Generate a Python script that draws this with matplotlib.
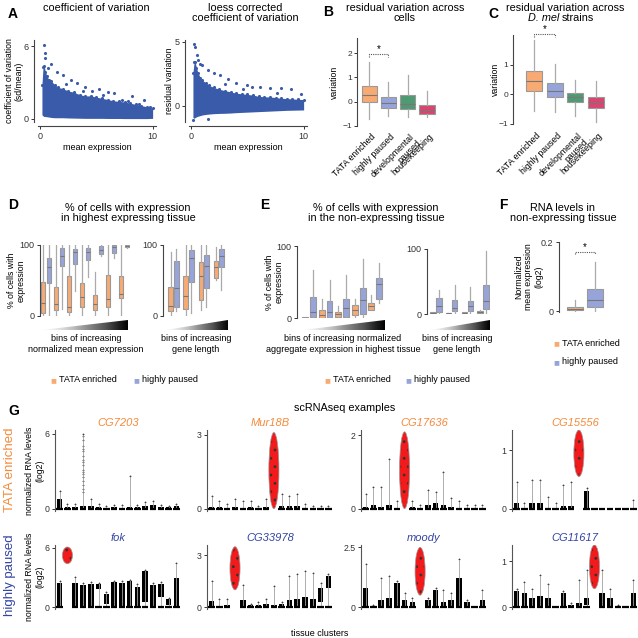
import numpy as np
import matplotlib
matplotlib.use('Agg')
import matplotlib.pyplot as plt
from matplotlib.patches import Polygon, Ellipse

plt.rcParams['font.family'] = ['Liberation Sans', 'DejaVu Sans']
plt.rcParams['axes.linewidth'] = 0.8
plt.rcParams['hatch.linewidth'] = 0.8

W = H = 638
fig = plt.figure(figsize=(6.38, 6.38), dpi=100)

ORANGE = '#F8AA72'
BLUE = '#97A4DA'
GREEN = '#4F9A72'
PINK = '#DA4470'
DOT = '#3A5BAA'
GENE_OR = '#F58A3A'
GENE_BL = '#3344A3'
RED = '#F21A1A'

# ---------------- data ----------------
# Panel A (dense cloud envelope + sparse outliers)
a_x = [0.15, 0.25, 0.35, 0.45, 0.6, 0.8, 1.0, 1.3, 1.6, 2.0, 2.5, 3.0, 3.5, 4.0, 4.5, 5.0,
       5.5, 6.0, 6.5, 7.0, 7.5, 8.0, 8.5, 9.0, 9.5, 10.0]
a_cv_hi = [2.8, 4.3, 4.4, 3.9, 3.5, 3.2, 3.1, 2.8, 2.6, 2.5, 2.3, 2.2, 2.0, 1.9, 1.9, 1.8,
           1.7, 1.6, 1.5, 1.45, 1.4, 1.3, 1.2, 1.1, 1.0, 0.9]
a_cv_lo = [0.35, 0.25, 0.2, 0.2, 0.18, 0.15, 0.12, 0.1, 0.1, 0.1, 0.08, 0.07, 0.06, 0.05, 0.05, 0.05,
           0.05, 0.04, 0.04, 0.04, 0.03, 0.03, 0.03, 0.03, 0.03, 0.05]
a_cv_out_x = [0.3, 0.4, 0.45, 0.7, 1.0, 1.5, 2.0, 2.7, 3.3, 4.0, 4.6, 5.2, 6.0, 6.6, 7.3, 8.2, 9.2, 9.8,
              8.8, 3.8, 5.6, 7.8, 2.3]
a_cv_out_y = [6.1, 5.4, 5.0, 4.2, 4.5, 3.9, 3.6, 3.2, 3.0, 2.6, 2.3, 2.5, 2.2, 2.1, 1.6, 1.9, 1.6, 1.0,
              1.2, 2.3, 2.0, 1.5, 2.9]
a_res_hi = [2.6, 3.4, 3.45, 3.0, 2.6, 2.2, 2.0, 1.8, 1.6, 1.45, 1.3, 1.2, 1.1, 1.0, 0.95, 0.9,
            0.85, 0.75, 0.72, 0.7, 0.66, 0.6, 0.58, 0.55, 0.52, 0.5]
a_res_lo = [-0.9, -0.96, -0.9, -0.85, -0.8, -0.75, -0.7, -0.66, -0.63, -0.6, -0.58, -0.57, -0.55, -0.52, -0.5, -0.48,
            -0.46, -0.44, -0.42, -0.4, -0.38, -0.36, -0.34, -0.33, -0.32, -0.31]
a_res_out_x = [0.25, 0.3, 0.5, 0.6, 0.8, 1.0, 1.5, 2.0, 2.6, 3.3, 4.0, 5.0, 5.4, 6.1, 7.0, 8.0, 8.9, 9.8,
               1.5, 0.2, 3.0, 4.6, 7.6]
a_res_out_y = [4.85, 4.6, 4.0, 3.6, 3.3, 3.2, 2.8, 2.6, 2.4, 2.1, 1.8, 1.6, 1.5, 1.5, 1.4, 1.4, 1.3, 0.9,
               -1.0, -1.1, 1.7, 1.3, 1.0]

# Panels B, C
groups = ['TATA enriched', 'highly paused', 'developmental\npaused', 'housekeeping']
group_colors = [ORANGE, BLUE, GREEN, PINK]
b_lo = [-0.7, -0.6, -0.65, -0.65]
b_q1 = [0.0, -0.25, -0.3, -0.5]
b_med = [0.28, -0.05, -0.1, -0.35]
b_q3 = [0.65, 0.2, 0.27, -0.15]
b_hi = [1.65, 0.8, 1.08, 0.45]
c_lo = [-0.55, -0.58, -0.73, -0.93]
c_q1 = [0.12, -0.1, -0.27, -0.45]
c_med = [0.45, 0.1, -0.1, -0.27]
c_q3 = [0.8, 0.37, 0.03, -0.08]
c_hi = [1.82, 1.02, 0.5, 0.45]

# Panel D (percent of cells) [TATA, paused] per bin
d1_tata = dict(lo=[0, 0, 0, 0, 0, 0, 0], q1=[4, 9, 6, 12, 8, 12, 25], med=[18, 17, 12, 27, 17, 24, 31],
               q3=[48, 41, 57, 47, 30, 58, 56], hi=[100, 100, 100, 100, 62, 100, 100])
d1_paus = dict(lo=[0, 10, 35, 55, 85, 82, 96], q1=[47, 70, 73, 79, 87, 89, 97], med=[69, 85, 90, 90, 93, 97, 99],
               q3=[82, 96, 95, 96, 98, 100, 100], hi=[100, 100, 100, 100, 100, 100, 100])
d2_tata = dict(lo=[0, 0, 8, 50], q1=[7, 10, 22, 53], med=[14, 28, 57, 69], q3=[41, 57, 76, 77], hi=[90, 100, 100, 97])
d2_paus = dict(lo=[7, 4, 13, 36], q1=[12, 48, 39, 69], med=[40, 82, 71, 85], q3=[77, 93, 86, 94], hi=[94, 100, 100, 100])
# Panel E
e1_tata = dict(lo=[0, 0, 0, 0, 11], q1=[0, 0, 1, 4, 11], med=[0.5, 4, 5, 11, 16], q3=[1, 11, 8, 18, 21], hi=[1, 26, 17, 27, 32])
e1_paus = dict(lo=[0, 0, 0, 1, 21], q1=[2, 0, 2, 6, 27], med=[9, 8, 14, 25, 47], q3=[29, 23, 27, 42, 56], hi=[67, 53, 60, 82, 76])
e2_tata = dict(lo=[1, 0, 1, 1], q1=[1.5, 0.5, 1.5, 2], med=[2, 1, 2, 3], q3=[2.5, 1.5, 2.5, 5], hi=[3, 2, 3, 6])
e2_paus = dict(lo=[1, 1, 1, 1], q1=[3, 4, 4, 8], med=[13, 10, 12, 20], q3=[24, 21, 20, 45], hi=[37, 45, 42, 97])
# Panel F
f_groups = ['TATA enriched', 'highly paused']
f_lo = [0.0, 0.0]
f_q1 = [0.003, 0.011]
f_med = [0.007, 0.034]
f_q3 = [0.013, 0.064]
f_hi = [0.034, 0.141]

# Panel G: per tissue cluster dense band (lo, hi), whisker max; red = highlighted cluster (idx, lo, hi)
genes = ['CG7203', 'Mur18B', 'CG17636', 'CG15556', 'fok', 'CG33978', 'moody', 'CG11617']
g_ytop = [6, 3, 2, 1, 6, 3, 2.5, 1]
g_ylim = [6.3, 3.2, 2.15, 1.35, 6.3, 3.6, 2.6, 1.35]
g_red = [None, (8, 0.0, 3.1), (5, 0.0, 2.1), (8, 0.55, 1.35),
         (1, 4.4, 6.1), (3, 1.0, 3.5), (7, 0.5, 2.5), (10, 0.4, 1.35)]
g_lo = [
    [0] * 16, [0] * 16, [0] * 16, [0] * 16,
    [0, 0, 0, 0, 0, 1.8, 0.3, 0, 0, 0, 0, 0.5, 0, 1.0, 0.2, 0],
    [0, 0, 0, 0, 0, 0, 0, 0, 0, 0, 0, 0, 0, 0, 0.3, 1.1],
    [0] * 16,
    [0, 0, 0, 0, 0, 0, 0, 0, 0, 0.05, 0, 0, 0, 0, 0, 0],
]
g_hi = [
    [0.8, 0.1, 0.1, 0.2, 0.2, 0.1, 0, 0.1, 0, 0.1, 0.1, 0.2, 0.3, 0.1, 0.1, 0.2],
    [0.05, 0.05, 0, 0.05, 0, 0.05, 0, 0.05, 0, 0.1, 0.1, 0.1, 0, 0, 0, 0],
    [0.05, 0.1, 0.05, 0.1, 0, 0, 0.05, 0, 0.1, 0.15, 0.1, 0.05, 0, 0, 0, 0],
    [0.1, 0, 0.1, 0.1, 0, 0, 0.05, 0.05, 0, 0.3, 0, 0, 0, 0, 0, 0],
    [2.4, 0, 2.4, 2.2, 2.3, 2.3, 1.3, 2.5, 2.4, 2.6, 2.0, 3.7, 2.2, 2.3, 0.8, 3.0],
    [0.35, 0, 0.1, 0, 0.4, 0.1, 0.1, 0.2, 0.1, 0.2, 0.4, 0.5, 0.6, 0.5, 1.1, 1.8],
    [0.8, 0, 0.3, 0.4, 1.0, 0.3, 0.2, 0, 0.3, 0.7, 0.2, 0.3, 1.2, 0.2, 0, 0.3],
    [0.35, 0.3, 0.2, 0.25, 0.2, 0, 0.3, 0.05, 0.1, 0.2, 0, 0.3, 0.2, 0, 0, 0.3],
]
g_max = [
    [1.4, 0.4, 0.4, 6.0, 0.8, 0.4, 0.2, 0.3, 0.3, 2.6, 0.3, 0.5, 0.6, 0.3, 0.2, 0.4],
    [0.5, 0.3, 0.2, 0.4, 0.3, 0.3, 0.1, 0.4, 0, 0.6, 0.5, 0.6, 0.2, 0.1, 0.1, 0.1],
    [0.4, 0.6, 0.6, 1.35, 0.2, 0, 0.2, 0.1, 0.5, 0.45, 1.0, 0.3, 0.2, 0.1, 0.1, 0.1],
    [0.45, 0.1, 0.5, 0.5, 0.2, 0.1, 0.4, 0.45, 0, 0.35, 0, 0, 0, 0, 0, 0.15],
    [2.6, 0, 3.1, 2.4, 2.5, 2.4, 1.5, 2.6, 2.7, 2.8, 2.3, 3.8, 2.4, 2.5, 0.9, 4.5],
    [1.5, 0.5, 0.5, 0, 1.3, 0.2, 0.3, 0.5, 1.2, 0.3, 1.8, 1.9, 2.1, 2.0, 1.4, 1.9],
    [1.8, 0.1, 1.2, 1.3, 1.1, 0.6, 0.4, 0, 0.4, 0.8, 0.7, 0.6, 2.0, 0.3, 0, 0.7],
    [0.4, 0.55, 0.4, 0.7, 0.5, 0, 0.35, 0.1, 0.6, 0.8, 0, 0.8, 0.4, 0.05, 0, 0.6],
]
cg7203_col_y = [5.8, 5.5, 5.0, 4.6, 4.2, 3.9, 3.5, 3.1, 2.8, 2.5, 2.2, 1.9, 1.6, 1.3, 4.8, 3.7, 2.9]


# ---------------- helpers ----------------
def pax(x0, y0, x1, y1):
    return fig.add_axes([x0 / W, 1 - y1 / H, (x1 - x0) / W, (y1 - y0) / H])


def ftext(x, y, s, **kw):
    return fig.text(x / W, 1 - y / H, s, **kw)


def style_left(ax, bottom=False):
    for s in ['top', 'right']:
        ax.spines[s].set_visible(False)
    if not bottom:
        ax.spines['bottom'].set_visible(False)
        ax.set_xticks([])
    ax.spines['left'].set_color('#444444')
    ax.spines['bottom'].set_color('#444444')
    ax.tick_params(labelsize=6.5, length=2.5, width=0.7, pad=1.5, colors='#333333')
    ax.set_facecolor('none')


def ylab(ax, text, xright, x0, x1):
    # xright: pixel x of the right edge of the (rotated) label
    ax.set_ylabel(text, fontsize=6.3, linespacing=1.1)
    ax.yaxis.set_label_coords((xright - x0) / (x1 - x0), 0.5)


def boxes(ax, pos, lo, q1, med, q3, hi, colors, width):
    stats = [dict(whislo=lo[i], q1=q1[i], med=med[i], q3=q3[i], whishi=hi[i]) for i in range(len(pos))]
    bp = ax.bxp(stats, positions=pos, widths=width, showfliers=False, patch_artist=True,
                showcaps=False, manage_ticks=False,
                boxprops=dict(edgecolor='#999999', linewidth=0.8),
                whiskerprops=dict(color='#aaaaaa', linewidth=0.9),
                medianprops=dict(color='#777777', linewidth=0.8))
    for b, c in zip(bp['boxes'], colors):
        b.set_facecolor(c)
    return bp


def bracket(ax, x0, x1, y, d, star_y):
    ax.plot([x0, x0, x1, x1], [y - d, y, y, y - d], ls=(0, (1, 1)), color='#555555', lw=0.8, clip_on=False)
    ax.text((x0 + x1) / 2, star_y, '*', ha='center', va='center', fontsize=7, clip_on=False)


def wedge(x0, y0, x1, y1):
    ax = pax(x0, y0, x1, y1)
    ax.set_xlim(0, 1)
    ax.set_ylim(0, 1)
    ax.axis('off')
    im = ax.imshow(np.linspace(0, 1, 256)[None, :], cmap='Greys', vmin=0, vmax=1.0,
                   extent=[0, 1, 0, 1], aspect='auto')
    tri = Polygon([(0, 0), (1, 0), (1, 1)], closed=True, transform=ax.transData)
    im.set_clip_path(tri)


def paired(ax, tata, paus, off, width):
    n = len(tata['med'])
    pos = np.arange(n)
    boxes(ax, pos - off, tata['lo'], tata['q1'], tata['med'], tata['q3'], tata['hi'], [ORANGE] * n, width)
    boxes(ax, pos + off, paus['lo'], paus['q1'], paus['med'], paus['q3'], paus['hi'], [BLUE] * n, width)


def legend_row(x, y, color, text):
    ftext(x, y, '\u25A0', color=color, fontsize=7, ha='center', va='center')
    ftext(x + 6, y, text, fontsize=6.5, va='center')


TS = 7.8  # title size

# ---------------- Panel A ----------------
ftext(8, 14, 'A', fontsize=10, fontweight='bold', va='center')
ftext(96, 3, 'coefficient of variation', fontsize=TS, ha='center', va='top')
x0, x1 = 38, 156
ax = pax(x0, 40, x1, 122)
style_left(ax, bottom=True)
ax.spines['left'].set_position(('outward', 3))
ax.spines['bottom'].set_position(('outward', 3))
ax.fill_between(a_x, a_cv_lo, a_cv_hi, color=DOT, lw=0)
ax.scatter(a_x, a_cv_hi, s=5, color=DOT, lw=0)
ax.scatter(a_cv_out_x, a_cv_out_y, s=5, color=DOT, lw=0)
ax.set_xlim(-0.2, 10.3)
ax.set_ylim(-0.25, 6.5)
ax.set_xticks([0, 10])
ax.set_yticks([0, 6])
ax.set_xlabel('mean expression', fontsize=6.5, labelpad=2)
ylab(ax, 'coefficient of variation\n(sd/mean)', 24, x0, x1)

ftext(245, 3, 'loess corrected\ncoefficient of variation', fontsize=TS, ha='center', va='top', linespacing=1.0)
x0, x1 = 189, 307
ax = pax(x0, 40, x1, 122)
style_left(ax, bottom=True)
ax.spines['left'].set_position(('outward', 3))
ax.spines['bottom'].set_position(('outward', 3))
ax.fill_between(a_x, a_res_lo, a_res_hi, color=DOT, lw=0)
ax.scatter(a_x, a_res_hi, s=5, color=DOT, lw=0)
ax.scatter(a_res_out_x, a_res_out_y, s=5, color=DOT, lw=0)
ax.set_xlim(-0.2, 10.3)
ax.set_ylim(-1.25, 5.15)
ax.set_xticks([0, 10])
ax.set_yticks([0, 5])
ax.set_xlabel('mean expression', fontsize=6.5, labelpad=2)
ylab(ax, 'residual variation', 174, x0, x1)

# ---------------- Panel B ----------------
ftext(323, 12, 'B', fontsize=10, fontweight='bold', va='center')
ftext(405, 3, 'residual variation across\ncells', fontsize=TS, ha='center', va='top', linespacing=1.0)
x0, x1 = 357, 440
ax = pax(x0, 38, x1, 126)
style_left(ax)
ax.tick_params(labelsize=6, pad=1)
boxes(ax, range(4), b_lo, b_q1, b_med, b_q3, b_hi, group_colors, 0.79)
ax.set_xlim(-0.63, 3.68)
ax.set_ylim(-1, 2.62)
ax.set_yticks([-1, 0, 1, 2])
ax.set_yticklabels(['\u22121', '0', '1', '2'])
ylab(ax, 'variation', 339, x0, x1)
bracket(ax, 0, 1, 1.95, 0.1, 2.15)
for i, g in enumerate(groups):
    ax.text(i + 0.1, -1.25, g, rotation=45, ha='right', va='top', rotation_mode='anchor',
            fontsize=6.3, multialignment='right', linespacing=1.0, clip_on=False)

# ---------------- Panel C ----------------
ftext(488, 14, 'C', fontsize=10, fontweight='bold', va='center')
ftext(565, 3, 'residual variation across', fontsize=TS, ha='center', va='top')
ftext(559, 13, 'D. mel', fontsize=TS, ha='right', va='top', style='italic')
ftext(562, 13, 'strains', fontsize=TS, ha='left', va='top')
x0, x1 = 513, 610
ax = pax(x0, 35, x1, 124)
style_left(ax)
ax.tick_params(labelsize=6, pad=1)
boxes(ax, range(4), c_lo, c_q1, c_med, c_q3, c_hi, group_colors, 0.78)
ax.set_xlim(-1.03, 3.7)
ax.set_ylim(-1, 2.0)
ax.set_yticks([-1, 0, 1])
ax.set_yticklabels(['\u22121', '0', '1'])
ylab(ax, 'variation', 500, x0, x1)
bracket(ax, 0, 1, 2.03, 0.1, 2.2)
for i, g in enumerate(groups):
    ax.text(i + 0.1, -1.25, g, rotation=45, ha='right', va='top', rotation_mode='anchor',
            fontsize=6.3, multialignment='right', linespacing=1.0, clip_on=False)

# ---------------- Panel D ----------------
ftext(8, 205, 'D', fontsize=10, fontweight='bold', va='center')
ftext(128, 203, '% of cells with expression\nin highest expressing tissue', fontsize=TS, ha='center',
      va='top', linespacing=1.05)
x0, x1 = 40, 130
ax = pax(x0, 245, x1, 316)
style_left(ax)
paired(ax, d1_tata, d1_paus, 0.23, 0.38)
ax.set_xlim(-0.46, 6.46)
ax.set_ylim(0, 100)
ax.set_yticks([0, 100])
ylab(ax, '% of cells with\nexpression', 26, x0, x1)
ax = pax(163, 245, 228, 316)
style_left(ax)
paired(ax, d2_tata, d2_paus, 0.17, 0.33)
ax.set_xlim(-0.7, 3.63)
ax.set_ylim(0, 100)
ax.set_yticks([0, 100])
wedge(41, 320, 128, 330)
wedge(165, 320, 228, 330)
ftext(86, 334, 'bins of increasing\nnormalized mean expression', fontsize=6.5, ha='center', va='top', linespacing=1.25)
ftext(196, 334, 'bins of increasing\ngene length', fontsize=6.5, ha='center', va='top', linespacing=1.25)
legend_row(53, 380, ORANGE, 'TATA enriched')
legend_row(136, 380, BLUE, 'highly paused')

# ---------------- Panel E ----------------
ftext(260, 205, 'E', fontsize=10, fontweight='bold', va='center')
ftext(376, 203, '% of cells with expression\nin the non-expressing tissue', fontsize=TS, ha='center',
      va='top', linespacing=1.05)
x0, x1 = 297, 385
ax = pax(x0, 246, x1, 318)
style_left(ax)
paired(ax, e1_tata, e1_paus, 0.24, 0.36)
ax.set_xlim(-0.73, 4.6)
ax.set_ylim(0, 100)
ax.set_yticks([0, 100])
ylab(ax, '% of cells with\nexpression', 284, x0, x1)
ax = pax(427, 249, 490, 314)
style_left(ax)
paired(ax, e2_tata, e2_paus, 0.19, 0.35)
ax.set_xlim(-0.57, 3.44)
ax.set_ylim(0, 100)
ax.set_yticks([0, 100])
wedge(302, 320, 385, 330)
wedge(430, 320, 490, 330)
ftext(343, 334, 'bins of increasing normalized\naggregate expression in highest tissue', fontsize=6.5,
      ha='center', va='top', linespacing=1.25)
ftext(457, 334, 'bins of increasing\ngene length', fontsize=6.5, ha='center', va='top', linespacing=1.25)
legend_row(327, 380, ORANGE, 'TATA enriched')
legend_row(408, 380, BLUE, 'highly paused')

# ---------------- Panel F ----------------
ftext(499, 205, 'F', fontsize=10, fontweight='bold', va='center')
ftext(563, 203, 'RNA levels in\nnon-expressing tissue', fontsize=TS, ha='center', va='top', linespacing=1.05)
x0, x1 = 559, 610
ax = pax(x0, 242, x1, 312)
style_left(ax)
boxes(ax, [0, 1], f_lo, f_q1, f_med, f_q3, f_hi, [ORANGE, BLUE], 0.8)
ax.set_xlim(-0.8, 1.75)
ax.set_ylim(-0.002, 0.2)
ax.set_yticks([0, 0.2])
ax.set_yticklabels(['0', '0.2'])
ylab(ax, 'Normalized\nmean expression\n(log2)', 543, x0, x1)
bracket(ax, 0, 1, 0.172, 0.008, 0.186)
legend_row(556, 343, ORANGE, 'TATA enriched')
legend_row(556, 362, BLUE, 'highly paused')

# ---------------- Panel G ----------------
ftext(8, 411, 'G', fontsize=10, fontweight='bold', va='center')
ftext(345, 408, 'scRNAseq examples', fontsize=TS, ha='center', va='center')
ftext(10, 470, 'TATA enriched', rotation=90, color=GENE_OR, fontsize=9.5, ha='center', va='center')
ftext(10, 575, 'highly paused', rotation=90, color=GENE_BL, fontsize=9.5, ha='center', va='center')
ftext(320, 633, 'tissue clusters', fontsize=6.5, ha='center', va='center')

col_x = [55, 207, 361, 512]
row_y = [(430, 511), (545, 609)]
for k, gname in enumerate(genes):
    r, c = divmod(k, 4)
    x0 = col_x[c]
    y0, y1 = row_y[r]
    ax = pax(x0, y0, x0 + 126, y1)
    style_left(ax)
    ax.spines['left'].set_color('#555555')
    n = len(g_max[k])
    red = g_red[k]
    for i in range(n):
        if red is not None and i == red[0]:
            continue
        if g_max[k][i] > 0:
            ax.vlines(i, 0, g_max[k][i], color='#a0a0a0', lw=0.6)
            ax.scatter([i], [g_max[k][i]], s=1.5, color='black', lw=0)
        ax.hlines(0, i - 0.42, i + 0.42, color='black', lw=1.6)
        if g_hi[k][i] > g_lo[k][i]:
            ax.bar(i, g_hi[k][i] - g_lo[k][i], bottom=g_lo[k][i], width=0.72, color='black', lw=0)
    if k == 0:
        ax.scatter([3] * len(cg7203_col_y), cg7203_col_y, s=1.5, color='black', lw=0)
    if red is not None:
        ri, rlo, rhi = red
        ax.add_patch(Ellipse((ri, (rlo + rhi) / 2), 1.3, rhi - rlo, facecolor=RED, edgecolor='#999999', lw=0.5))
        ax.add_patch(Ellipse((ri, (rlo + rhi) / 2), 1.0, (rhi - rlo) * 0.92, facecolor='none',
                             edgecolor='#333333', lw=0, hatch='..'))
    ax.set_xlim(-0.6, n - 0.4)
    ax.set_ylim(-0.03 * g_ylim[k], g_ylim[k])
    ax.set_yticks([0, g_ytop[k]])
    ax.set_yticklabels(['0', '%g' % g_ytop[k]])
    ax.tick_params(labelsize=6.3)
    ax.set_title(gname, fontsize=8, style='italic', color=GENE_OR if r == 0 else GENE_BL, pad=3)
    if c == 0:
        ylab(ax, 'normalized RNA levels\n(log2)', 44, x0, x0 + 126)

fig.savefig('out.png', dpi=100, facecolor='white')
